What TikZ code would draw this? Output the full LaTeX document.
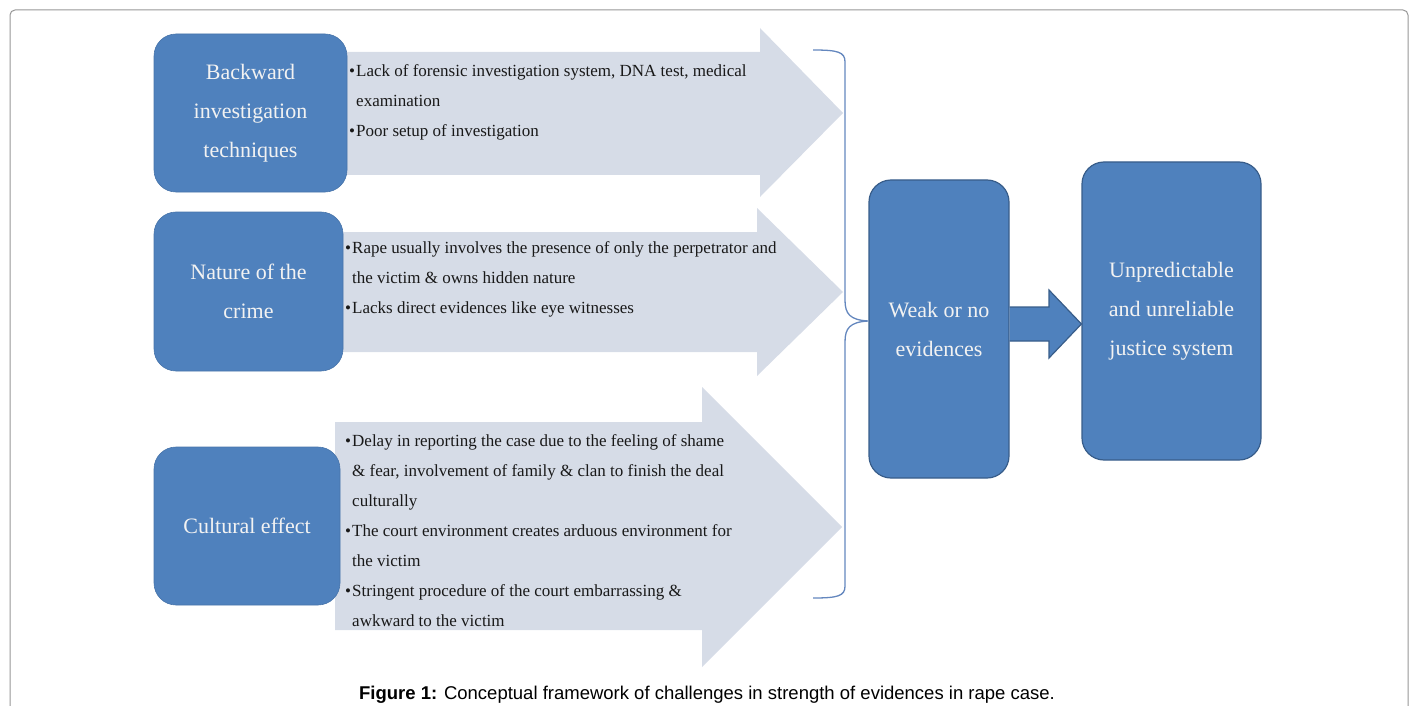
\documentclass[tikz,border=0pt]{standalone}
\usepackage{fontspec}
\setmainfont{Liberation Serif}
\newfontfamily\capfont{Liberation Sans}
\usetikzlibrary{calc}
\definecolor{boxblue}{RGB}{79,129,189}
\definecolor{boxedge}{RGB}{56,93,138}
\definecolor{arrowfill}{RGB}{214,220,231}
\definecolor{bracecol}{RGB}{100,135,190}
\definecolor{framegray}{RGB}{150,150,150}
\definecolor{labelwhite}{RGB}{242,242,242}
\definecolor{bodytext}{RGB}{25,25,25}
\newcommand{\bl}{\makebox[7pt][l]{\textbullet}}
\newcommand{\ind}{\hspace*{7pt}}
\begin{document}
\begin{tikzpicture}[x=1pt,y=-1pt,
  factorbox/.style={rectangle, rounded corners=22pt, fill=boxblue, draw=boxblue!90!black, line width=0.6pt,
    text=labelwhite, align=center, font=\fontsize{22}{39}\selectfont, inner sep=0pt},
  outcomebox/.style={factorbox, draw=boxedge, line width=1.2pt},
  bigarrow/.style={fill=arrowfill, draw=none},
  bullets/.style={anchor=base west, inner sep=0pt, text=bodytext, font=\fontsize{17}{30}\selectfont},
  bracestyle/.style={draw=bracecol, line width=1.3pt},
  framestyle/.style={draw=framegray, line width=1pt, rounded corners=5pt}
]
\useasboundingbox (0,0) rectangle (1414,706);
% outer frame
\draw[framestyle] (10,720) -- (10,10) -- (1408,10) -- (1408,720);

% big arrows
\path[bigarrow] (335,52) -- (760,52) -- (760,28) -- (843,113) -- (760,197) -- (760,175) -- (335,175) -- cycle;
\path[bigarrow] (335,232) -- (757,232) -- (757,208) -- (843,292) -- (757,376) -- (757,352) -- (335,352) -- cycle;
\path[bigarrow] (335,422) -- (702,422) -- (702,387) -- (842,527) -- (702,667) -- (702,630) -- (335,630) -- cycle;

% factor boxes
\node[factorbox, minimum width=193pt, minimum height=158pt] (back) at (250.5,113) {Backward\\investigation\\techniques};
\node[factorbox, minimum width=189pt, minimum height=159pt] (nature) at (248.5,291.5) {Nature of the\\crime};
\node[factorbox, minimum width=186pt, minimum height=158pt] (culture) at (247,526) {Cultural effect};

% bullet texts
\node[bullets] (t1) at (349,77) {\parbox[t]{480pt}{\bl Lack of forensic investigation system, DNA test, medical\\
\ind examination\\
\bl Poor setup of investigation}};
\node[bullets] (t2) at (345,253) {\parbox[t]{480pt}{\bl Rape usually involves the presence of only the perpetrator and\\
\ind the victim \& owns hidden nature\\
\bl Lacks direct evidences like eye witnesses}};
\node[bullets] (t3) at (345,446) {\parbox[t]{480pt}{\bl Delay in reporting the case due to the feeling of shame\\
\ind\& fear, involvement of family \& clan to finish the deal\\
\ind culturally\\
\bl The court environment creates arduous environment for\\
\ind the victim\\
\bl Stringent procedure of the court embarrassing \&\\
\ind awkward to the victim}};

% outcome boxes
\node[outcomebox, minimum width=140pt, minimum height=298pt] (weak) at (939,329) {Weak or no\\evidences};
\node[outcomebox, minimum width=179pt, minimum height=298pt] (unp) at (1171.5,311) {Unpredictable\\and unreliable\\justice system};

% brace
\coordinate (bracetop) at (813,50);
\coordinate (bracebot) at (813,598);
\draw[bracestyle] (bracetop) .. controls (838,50) and (845,52) .. (845,62) -- (845,300)
  .. controls (845,314) and (850,320) .. (weak.west |- 0,321)
  .. controls (850,322) and (845,328) .. (845,342) -- (845,586)
  .. controls (845,596) and (838,598) .. (bracebot);

% block arrow between outcome boxes
\coordinate (ya) at (0,307);
\coordinate (yb) at (0,341);
\coordinate (ye) at (0,324);
\filldraw[fill=boxblue, draw=boxedge, line width=1.2pt, line join=miter]
  (weak.east |- ya) -- (1049,307) -- (1049,290) -- (unp.west |- ye) -- (1049,358) -- (1049,341) -- (weak.east |- yb);

% caption
\node[font=\capfont\fontsize{18.5}{22}\selectfont, inner sep=0pt, anchor=base] (cap) at (707,699)
  {\textbf{Figure 1:} Conceptual framework of challenges in strength of evidences in rape case.};
\end{tikzpicture}
\end{document}
